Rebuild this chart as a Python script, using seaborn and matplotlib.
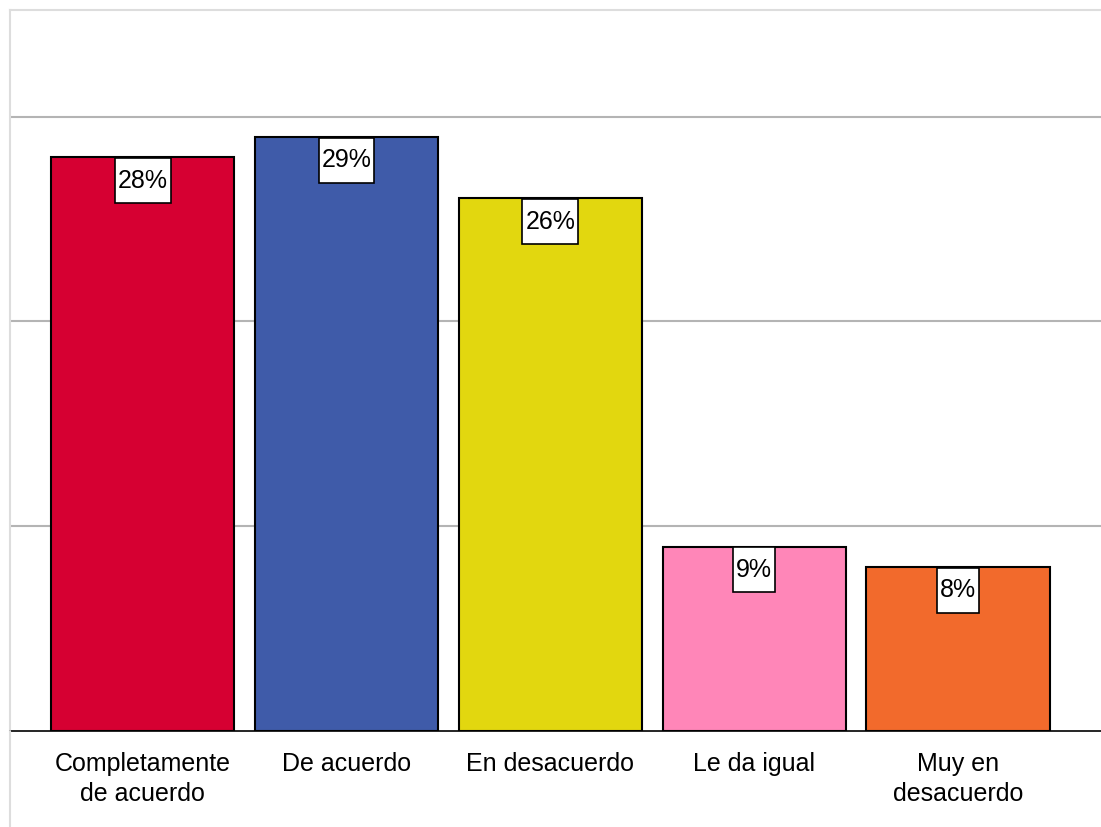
import matplotlib
matplotlib.use('Agg')
import matplotlib.pyplot as plt
from matplotlib.lines import Line2D
from matplotlib.path import Path
import seaborn as sns
import pandas as pd

# Datos del gráfico
categorias = ['Completamente\nde acuerdo', 'De acuerdo', 'En desacuerdo', 'Le da igual', 'Muy en\ndesacuerdo']
porcentajes = [28, 29, 26, 9, 8]
etiquetas = ['28%', '29%', '26%', '9%', '8%']
colores = ['#D60032', '#3F5BA9', '#E2D70F', '#FF86B8', '#F26A2C']

sns.set_theme(style='white')
plt.rcParams['font.family'] = ['Liberation Sans', 'DejaVu Sans']
plt.rcParams['text.color'] = 'black'
plt.rcParams['xtick.color'] = 'black'


# caja de etiqueta: poco margen a los lados, más arriba y abajo
def caja(x0, y0, width, height, mutation_size):
    px, py = 0.12 * mutation_size, 0.42 * mutation_size
    x0, y0 = x0 - px, y0 - py
    x1, y1 = x0 + width + 2 * px, y0 + height + 2 * py
    return Path([(x0, y0), (x1, y0), (x1, y1), (x0, y1), (x0, y0)], closed=True)


df = pd.DataFrame({'categoria': categorias, 'valor': porcentajes})

fig = plt.figure(figsize=(11.01, 8.27), dpi=100)
ax = fig.add_axes([10 / 1101, 96 / 827, 1 - 10 / 1101, 721 / 827])

sns.barplot(data=df, x='categoria', y='valor', hue='categoria', palette=colores,
            width=0.9, edgecolor='black', linewidth=1.5, saturation=1,
            legend=False, ax=ax, zorder=3)

ax.set_xlim(-0.65, 4.70)
ax.set_ylim(0, 35.2)
ax.set_yticks([10, 20, 30])
ax.yaxis.grid(True, color='#b4b4b4', linewidth=1.5, zorder=0)
ax.set_yticklabels([])
ax.tick_params(axis='y', length=0)
ax.tick_params(axis='x', length=0, pad=15, labelsize=18, labelcolor='black')
for lbl in ax.get_xticklabels():
    lbl.set_linespacing(1.3)
ax.set_xlabel('')
ax.set_ylabel('')

for s in ['top', 'left', 'right']:
    ax.spines[s].set_color('#dddddd')
    ax.spines[s].set_linewidth(1.5)
ax.spines['right'].set_visible(False)
ax.spines['bottom'].set_color('black')
ax.spines['bottom'].set_linewidth(1.2)

for i, (v, t) in enumerate(zip(porcentajes, etiquetas)):
    ax.annotate(t, xy=(i, v), xytext=(0, -8), textcoords='offset points',
                ha='center', va='top', fontsize=18, color='black', zorder=5,
                bbox=dict(boxstyle=caja, facecolor='white',
                          edgecolor='black', linewidth=1.2))

# borde izquierdo que sigue por debajo del eje
fig.add_artist(Line2D([10 / 1101, 10 / 1101], [0, 96 / 827], transform=fig.transFigure,
                      color='#dddddd', linewidth=1.5))

fig.savefig('out.png', dpi=100)
